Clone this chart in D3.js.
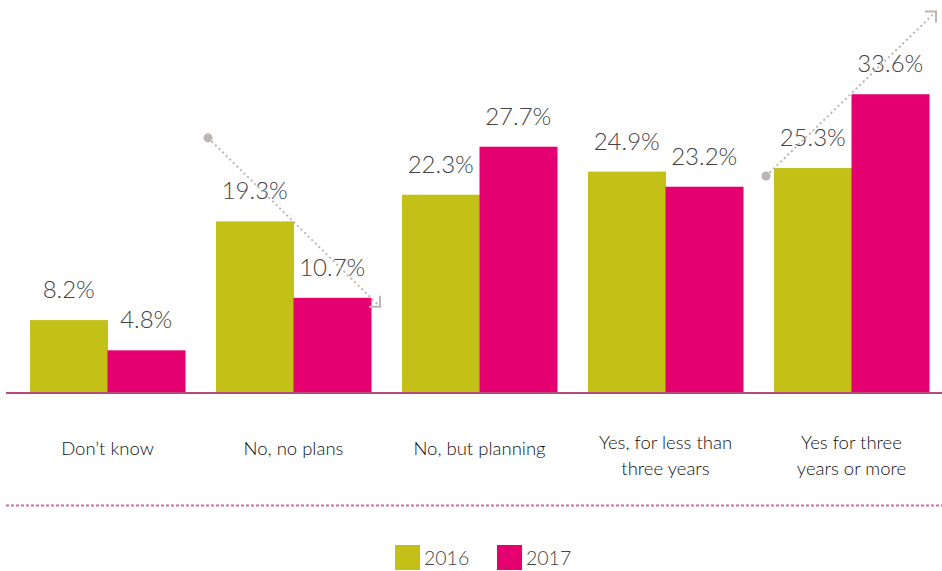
<!DOCTYPE html>
<html>
<head>
<meta charset="utf-8">
<script src="https://cdn.jsdelivr.net/npm/d3@7"></script>
<style>
  html, body { margin: 0; padding: 0; background: #fff; }
  svg { display: block; }
</style>
</head>
<body>
<svg id="chart" width="942" height="571"></svg>
<script>
// Survey answers, two survey years
const categories = [
  ["Don’t know"],
  ["No, no plans"],
  ["No, but planning"],
  ["Yes, for less than", "three years"],
  ["Yes for three", "years or more"]
];
const years = ["2016", "2017"];
const values2016 = [8.2, 19.3, 22.3, 24.9, 25.3];
const values2017 = [4.8, 10.7, 27.7, 23.2, 33.6];

// Trend arrows: category index, start and end value (percent)
const trendArrows = [
  { cat: 1, from: 28.7, to: 9.7 },
  { cat: 4, from: 24.4, to: 42.9 }
];

const colors = { "2016": "#c3c118", "2017": "#e4006e" };

const svg = d3.select("#chart");
const baseY = 393;

const x = d3.scaleBand()
  .domain(d3.range(categories.length))
  .range([30, 929])
  .paddingInner(31 / 186)
  .paddingOuter(0);

const xs = d3.scaleBand()
  .domain(years)
  .range([0, x.bandwidth()]);

const y = d3.scaleLinear().domain([0, 44.2]).range([baseY, 0]);

const rows = categories.map((c, i) => ({
  i, label: c,
  vals: [{ year: "2016", v: values2016[i] }, { year: "2017", v: values2017[i] }]
}));

const groups = svg.append("g").selectAll("g")
  .data(rows).join("g")
  .attr("transform", d => `translate(${x(d.i)},0)`);

groups.selectAll("rect")
  .data(d => d.vals).join("rect")
  .attr("x", d => xs(d.year))
  .attr("width", xs.bandwidth() + 0.5)
  .attr("y", d => y(d.v))
  .attr("height", d => y(0) - y(d.v))
  .attr("fill", d => colors[d.year]);

// Baseline
svg.append("line")
  .attr("x1", 6).attr("x2", 942)
  .attr("y1", baseY).attr("y2", baseY)
  .attr("stroke", "#b64a7d").attr("stroke-width", 2);

// Trend arrows (dotted line, dot at start, corner head at end)
const arrowColor = "#bdb5b1";
trendArrows.forEach(a => {
  const x0 = x(a.cat) - 8;
  const x1 = x(a.cat) + x.bandwidth() + (a.to > a.from ? 7 : 9);
  const y0 = y(a.from), y1 = y(a.to);
  const g = svg.append("g");
  g.append("line")
    .attr("x1", x0).attr("y1", y0).attr("x2", x1).attr("y2", y1)
    .attr("stroke", arrowColor).attr("stroke-width", 2)
    .attr("stroke-dasharray", "2,3");
  g.append("circle").attr("cx", x0).attr("cy", y0).attr("r", 4.5).attr("fill", arrowColor);
  const dy = a.to > a.from ? 1 : -1; // pointing up => head opens downward
  g.append("path")
    .attr("d", `M${x1 - 11},${y1} L${x1},${y1} L${x1},${y1 + dy * 11}`)
    .attr("fill", "none").attr("stroke", arrowColor).attr("stroke-width", 2);
});

// Value labels
groups.selectAll("text.val")
  .data(d => d.vals).join("text")
  .attr("class", "val")
  .attr("x", d => xs(d.year) + xs.bandwidth() / 2)
  .attr("y", d => y(d.v) - 22)
  .attr("text-anchor", "middle")
  .attr("font-family", "Lato, sans-serif")
  .attr("font-weight", 300)
  .attr("font-size", 24)
  .attr("fill", "#444")
  .text(d => d.v.toFixed(1) + "%");

// Category labels
groups.append("text")
  .attr("text-anchor", "middle")
  .attr("font-family", "Lato, sans-serif")
  .attr("font-weight", 300)
  .attr("font-size", 18.5)
  .attr("fill", "#111")
  .each(function (d) {
    const t = d3.select(this);
    const startY = d.label.length === 1 ? 455 : 449;
    d.label.forEach((line, k) => {
      t.append("tspan")
        .attr("x", x.bandwidth() / 2)
        .attr("y", startY + k * 26)
        .text(line);
    });
  });

// Dotted separator
svg.append("line")
  .attr("x1", 6).attr("x2", 942)
  .attr("y1", 505.5).attr("y2", 505.5)
  .attr("stroke", "#cf6d9c").attr("stroke-width", 2)
  .attr("stroke-dasharray", "3,2");

// Legend
const legend = svg.append("g").attr("transform", "translate(395,545)");
const legendStep = 102;
const li = legend.selectAll("g").data(years).join("g")
  .attr("transform", (d, i) => `translate(${i * legendStep},0)`);
li.append("rect").attr("width", 25).attr("height", 25).attr("fill", d => colors[d]);
li.append("text")
  .attr("x", 29).attr("y", 20)
  .attr("font-family", "Lato, sans-serif")
  .attr("font-weight", 300)
  .attr("font-size", 19.5)
  .attr("fill", "#444")
  .text(d => d);
</script>
</body>
</html>
